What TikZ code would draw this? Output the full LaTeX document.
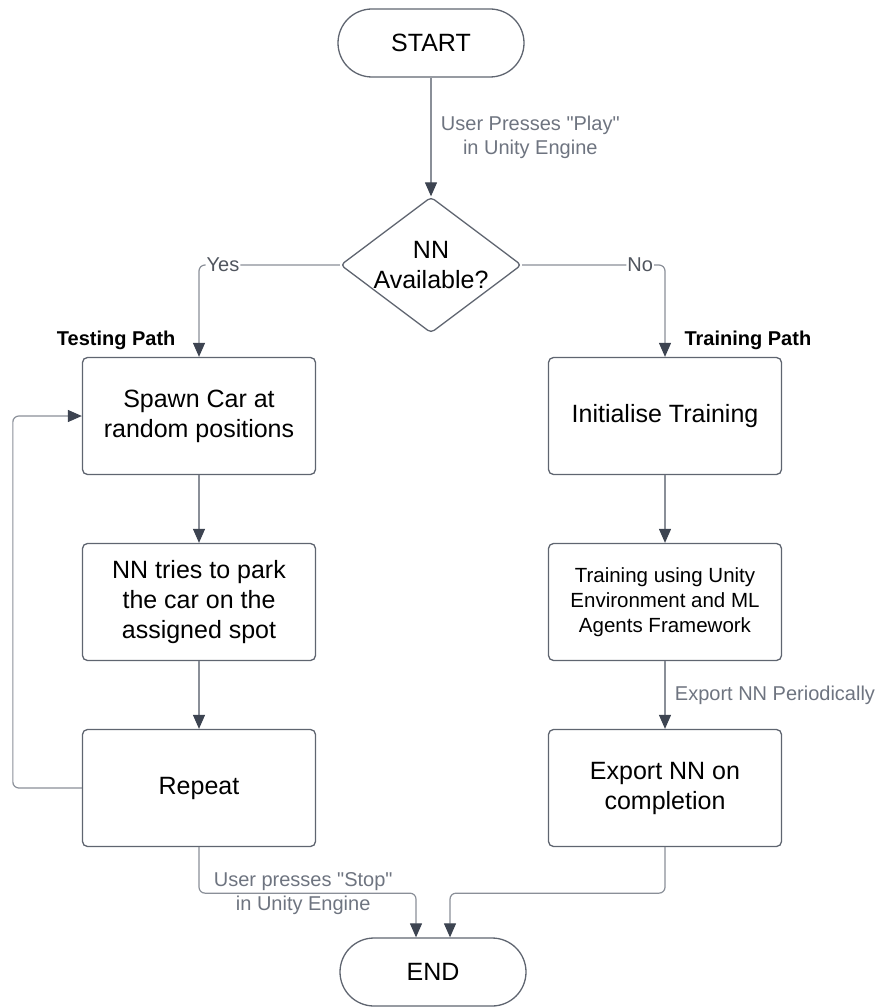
\documentclass[tikz,border=0pt]{standalone}
\usepackage{fontspec}
\setmainfont{Liberation Sans}
\usetikzlibrary{arrows.meta,shapes.geometric}

\definecolor{linegray}{HTML}{8A8F98}
\definecolor{tipgray}{HTML}{3D4451}
\definecolor{boxgray}{HTML}{5F6570}
\definecolor{lblgray}{HTML}{6E7480}
\definecolor{choicegray}{HTML}{50555E}

\begin{document}
\begin{tikzpicture}[x=1pt,y=-1pt,
    box/.style={draw=boxgray,line width=1.3pt,rounded corners=5pt,minimum width=233pt,
      minimum height=117pt,align=center,font=\fontsize{25}{30}\selectfont},
    term/.style={draw=boxgray,line width=1.3pt,rounded corners=34pt,minimum width=186pt,
      minimum height=68pt,font=\fontsize{25}{30}\selectfont},
    decide/.style={diamond,draw=boxgray,line width=1.3pt,rounded corners=4pt,aspect=1.33,
      minimum width=181pt,minimum height=136pt,inner sep=-3pt,align=center,
      font=\fontsize{25}{30}\selectfont},
    flow/.style={draw=linegray,line width=1.2pt,rounded corners=6pt,
      -{Triangle[length=14pt,width=12pt,color=tipgray]}},
    lbl/.style={text=lblgray,align=center,font=\fontsize{20}{24}\selectfont},
    choice/.style={text=choicegray,fill=white,inner sep=1pt,font=\fontsize{20}{24}\selectfont},
    pathlbl/.style={font=\fontsize{20}{24}\selectfont\bfseries}]

    \useasboundingbox (0,0) rectangle (885,1008);

    % Start and decision
    \node[term] (start) at (431,43) {START};
    \node[decide] (avail) at (431,265) {NN\\Available?};

    % Testing path (left column)
    \node[box] (spawn) at (199,416) {Spawn Car at\\random positions};
    \node[box] (park) at (199,602) {NN tries to park\\the car on the\\assigned spot};
    \node[box] (repeat) at (199,788) {Repeat};

    % Training path (right column)
    \node[box] (init) at (665,416) {Initialise Training};
    \node[box,font=\fontsize{20.5}{25}\selectfont] (train) at (665,602)
      {Training using Unity\\Environment and ML\\Agents Framework};
    \node[box] (export) at (665,788) {Export NN on\\completion};

    \node[term] (stop) at (433,972) {END};

    \node[pathlbl,anchor=east] (testlbl) at (179,340) {Testing Path};
    \node[pathlbl,anchor=west] (trainlbl) at (681,340) {Training Path};

    % Connectors
    \draw[flow] (start) -- node[lbl,right=6pt]
      {User Presses \textquotedbl Play\textquotedbl\\in Unity Engine} (avail);
    \draw[flow] (avail.west) -| node[choice,pos=0.415] {Yes} (spawn.north);
    \draw[flow] (avail.east) -| node[choice,pos=0.413] {No} (init.north);

    \foreach \a/\b in {spawn/park,park/repeat,init/train}
      \draw[flow] (\a) -- (\b);
    \draw[flow] (train) -- node[lbl,right=6pt] {Export NN Periodically} (export);

    \draw[flow] (repeat.west) -- ++(-69,0) |- (spawn.west);
    \draw[flow] (repeat.south) -- ++(0,46) -| node[lbl,pos=0.24,inner sep=0pt]
      {User presses \textquotedbl Stop\textquotedbl\\in Unity Engine} ([xshift=-17pt]stop.north);
    \draw[flow] (export.south) -- ++(0,46) -| ([xshift=17pt]stop.north);
  \end{tikzpicture}
\end{document}
